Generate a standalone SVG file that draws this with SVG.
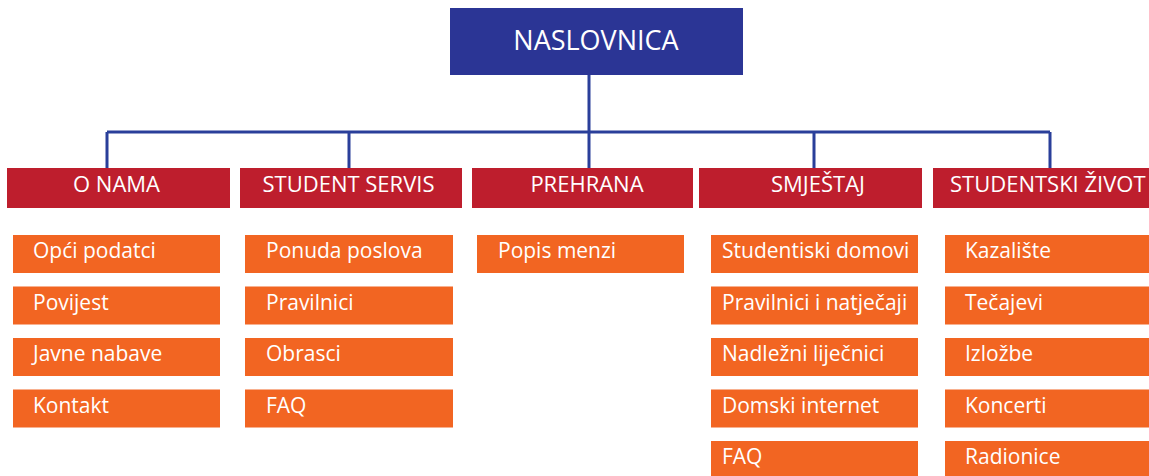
<svg xmlns="http://www.w3.org/2000/svg" width="1149" height="476" viewBox="0 0 1149 476">
<style>
.top{fill:#2b3595}
.hdr{fill:#be1e2d}
.item{fill:#f26522}
.t{font-family:"Open Sans","Noto Sans",sans-serif;fill:#ffffff}
.th{font-size:27px;text-anchor:middle}
.ts{font-size:22px;text-anchor:middle}
.ti{font-size:21px}
.con{stroke:#2a3f9a;stroke-width:3;fill:none}
</style>
<rect width="1149" height="476" fill="#ffffff"/>
<g id="connectors">
<path class="con" d="M589 75V132M107 132H1050M107 132V168M349 132V168M589 132V168M814 132V168M1050 132V168"/>
</g>
<g id="naslovnica"><rect class="top" x="450" y="8" width="293" height="67"/><text class="t th" x="596" y="50">NASLOVNICA</text></g>
<g id="o-nama"><rect class="hdr" x="7" y="168" width="223" height="40"/><text class="t ts" x="116.5" y="192">O NAMA</text></g>
<g id="student-servis"><rect class="hdr" x="240" y="168" width="222" height="40"/><text class="t ts" x="348.5" y="192">STUDENT SERVIS</text></g>
<g id="prehrana"><rect class="hdr" x="472" y="168" width="221" height="40"/><text class="t ts" x="587" y="192">PREHRANA</text></g>
<g id="smjestaj"><rect class="hdr" x="699" y="168" width="223" height="40"/><text class="t ts" x="818" y="192">SMJEŠTAJ</text></g>
<g id="studentski-zivot"><rect class="hdr" x="933" y="168" width="230" height="40"/><text class="t ts" x="950" y="192" style="text-anchor:start">STUDENTSKI ŽIVOT</text></g>
<g id="opci-podatci"><rect class="item" x="13" y="235" width="207" height="38"/><text class="t ti" x="33" y="258">Opći podatci</text></g>
<g id="povijest"><rect class="item" x="13" y="286.5" width="207" height="38"/><text class="t ti" x="33" y="309.5">Povijest</text></g>
<g id="javne-nabave"><rect class="item" x="13" y="338" width="207" height="38"/><text class="t ti" x="33" y="361">Javne nabave</text></g>
<g id="kontakt"><rect class="item" x="13" y="389.5" width="207" height="38"/><text class="t ti" x="33" y="412.5">Kontakt</text></g>
<g id="ponuda-poslova"><rect class="item" x="245" y="235" width="208" height="38"/><text class="t ti" x="266" y="258">Ponuda poslova</text></g>
<g id="pravilnici"><rect class="item" x="245" y="286.5" width="208" height="38"/><text class="t ti" x="266" y="309.5">Pravilnici</text></g>
<g id="obrasci"><rect class="item" x="245" y="338" width="208" height="38"/><text class="t ti" x="266" y="361">Obrasci</text></g>
<g id="faq-ss"><rect class="item" x="245" y="389.5" width="208" height="38"/><text class="t ti" x="266" y="412.5">FAQ</text></g>
<g id="popis-menzi"><rect class="item" x="477" y="235" width="207" height="38"/><text class="t ti" x="498" y="258">Popis menzi</text></g>
<g id="studentiski-domovi"><rect class="item" x="711" y="235" width="207" height="38"/><text class="t ti" x="722" y="258">Studentiski domovi</text></g>
<g id="pravilnici-natjecaji"><rect class="item" x="711" y="286.5" width="207" height="38"/><text class="t ti" x="722" y="309.5">Pravilnici i natječaji</text></g>
<g id="nadlezni-lijecnici"><rect class="item" x="711" y="338" width="207" height="38"/><text class="t ti" x="722" y="361">Nadležni liječnici</text></g>
<g id="domski-internet"><rect class="item" x="711" y="389.5" width="207" height="38"/><text class="t ti" x="722" y="412.5">Domski internet</text></g>
<g id="faq-sm"><rect class="item" x="711" y="441" width="207" height="38"/><text class="t ti" x="722" y="464">FAQ</text></g>
<g id="kazaliste"><rect class="item" x="945" y="235" width="210" height="38"/><text class="t ti" x="965" y="258">Kazalište</text></g>
<g id="tecajevi"><rect class="item" x="945" y="286.5" width="210" height="38"/><text class="t ti" x="965" y="309.5">Tečajevi</text></g>
<g id="izlozbe"><rect class="item" x="945" y="338" width="210" height="38"/><text class="t ti" x="965" y="361">Izložbe</text></g>
<g id="koncerti"><rect class="item" x="945" y="389.5" width="210" height="38"/><text class="t ti" x="965" y="412.5">Koncerti</text></g>
<g id="radionice"><rect class="item" x="945" y="441" width="210" height="38"/><text class="t ti" x="965" y="464">Radionice</text></g>
</svg>
